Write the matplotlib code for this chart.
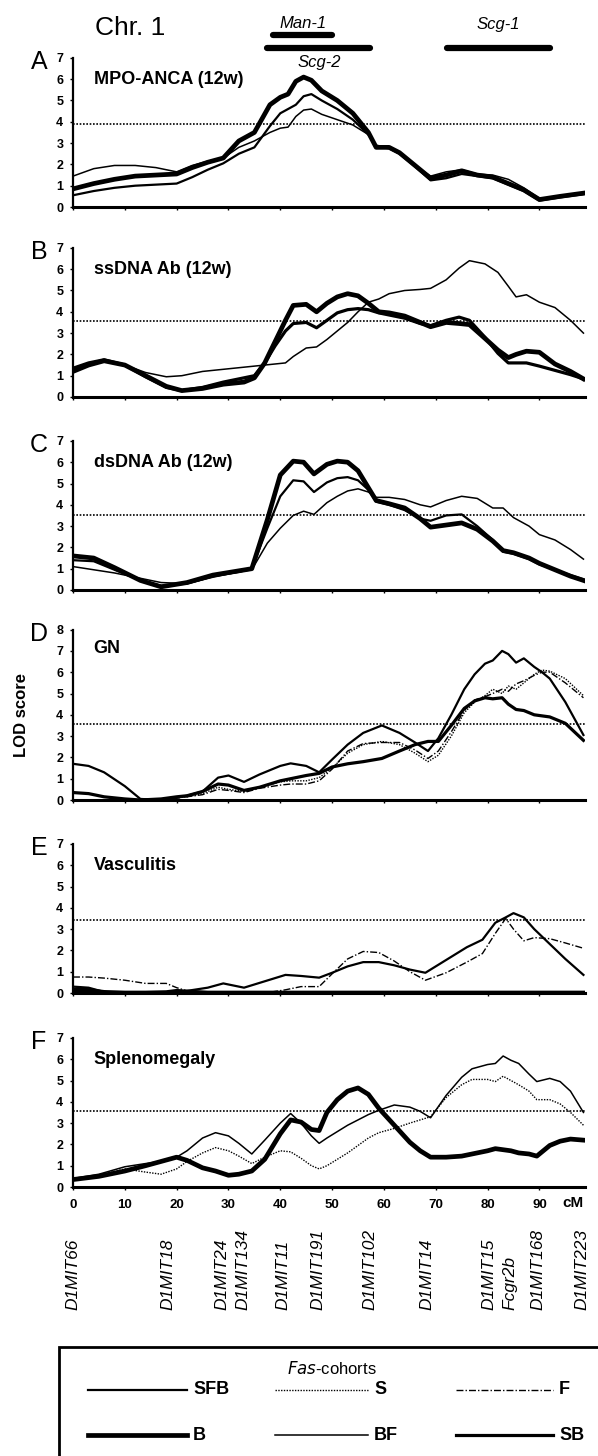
import matplotlib
matplotlib.use("Agg")
import matplotlib.pyplot as plt
from matplotlib.lines import Line2D
from matplotlib.patches import Rectangle
from matplotlib.transforms import blended_transform_factory

plt.rcParams["font.family"] = ["Liberation Sans", "DejaVu Sans"]

# ── Daten: LOD-Kurven (cM-Raster je Panel) ──────────────────────────────────
a_cm = [0, 4, 8, 12, 16, 20, 23, 26, 29, 32, 35, 38, 40, 41.5, 43, 44.5, 46, 48, 51, 54,
        57, 58.5, 61, 63, 66, 69, 72, 75, 78, 81, 84, 87, 90, 94, 98.5]
a_b = [0.85, 1.1, 1.3, 1.45, 1.5, 1.55, 1.85, 2.1, 2.3, 3.1, 3.5, 4.8, 5.15, 5.3, 5.9, 6.1, 5.95,
       5.45, 5.0, 4.4, 3.5, 2.8, 2.8, 2.55, 1.95, 1.35, 1.5, 1.7, 1.5, 1.4, 1.1, 0.8, 0.35, 0.5, 0.65]
a_sfb = [0.55, 0.75, 0.9, 1.0, 1.05, 1.1, 1.4, 1.75, 2.05, 2.5, 2.8, 3.8, 4.4, 4.6, 4.8, 5.2, 5.3,
         5.0, 4.6, 4.1, 3.4, 2.85, 2.75, 2.5, 1.9, 1.25, 1.35, 1.55, 1.45, 1.35, 1.05, 0.75, 0.3, 0.45, 0.6]
a_bf = [1.45, 1.8, 1.95, 1.95, 1.85, 1.65, 1.95, 2.15, 2.3, 2.8, 3.1, 3.5, 3.7, 3.75, 4.25, 4.55, 4.6,
        4.35, 4.1, 3.85, 3.4, 2.9, 2.8, 2.5, 1.95, 1.45, 1.65, 1.75, 1.55, 1.5, 1.3, 0.9, 0.4, 0.5, 0.6]

b_cm = [0, 3, 6, 10, 14, 18, 21, 25, 29, 33, 35, 37, 39, 41, 42.5, 45, 47, 49, 51, 53, 55, 57, 59,
        61, 64, 67, 69, 72, 74.5, 76.5, 79.5, 82, 84, 85.5, 87.5, 90, 93, 96, 98.5]
b_b = [1.2, 1.5, 1.7, 1.5, 1.0, 0.5, 0.3, 0.4, 0.6, 0.7, 0.9, 1.6, 2.6, 3.6, 4.3, 4.35, 4.0, 4.4,
       4.7, 4.85, 4.75, 4.4, 4.0, 3.95, 3.8, 3.5, 3.3, 3.5, 3.45, 3.4, 2.75, 2.2, 1.85, 2.0, 2.15,
       2.1, 1.55, 1.2, 0.85]
b_sb = [1.35, 1.6, 1.75, 1.5, 0.95, 0.45, 0.3, 0.45, 0.7, 0.9, 1.0, 1.6, 2.4, 3.1, 3.45, 3.5, 3.25,
        3.6, 3.95, 4.1, 4.15, 4.1, 3.95, 3.85, 3.7, 3.45, 3.35, 3.6, 3.75, 3.6, 2.8, 2.05, 1.6, 1.6,
        1.6, 1.45, 1.25, 1.05, 0.85]
b_bf = [1.35, 1.6, 1.7, 1.5, 1.15, 0.95, 1.0, 1.2, 1.3, 1.4, 1.45, 1.5, 1.55, 1.6, 1.9, 2.3, 2.35,
        2.7, 3.1, 3.5, 4.0, 4.45, 4.6, 4.85, 5.0, 5.05, 5.1, 5.5, 6.05, 6.4, 6.25, 5.85, 5.2, 4.7,
        4.8, 4.45, 4.2, 3.6, 3.0]

c_cm = [0, 4, 8, 13, 17, 22, 27, 32, 34.5, 37.5, 40, 42.5, 44.5, 46.5, 49, 51, 53, 55, 57, 58.5,
        61, 64, 67, 69, 72, 75, 78, 81, 83, 85, 88, 90, 93, 96, 98.5]
c_b = [1.6, 1.5, 1.05, 0.45, 0.15, 0.35, 0.7, 0.9, 1.0, 3.3, 5.4, 6.05, 6.0, 5.45, 5.9, 6.05, 6.0,
       5.6, 4.8, 4.2, 4.05, 3.85, 3.35, 2.95, 3.05, 3.15, 2.85, 2.3, 1.85, 1.75, 1.5, 1.25, 0.95,
       0.65, 0.45]
c_sfb = [1.4, 1.35, 0.95, 0.45, 0.2, 0.3, 0.65, 0.85, 1.0, 2.9, 4.4, 5.15, 5.1, 4.6, 5.05, 5.25,
         5.3, 5.15, 4.7, 4.15, 4.0, 3.75, 3.35, 3.25, 3.5, 3.55, 3.0, 2.35, 1.8, 1.7, 1.45, 1.2,
         0.95, 0.7, 0.5]
c_bf = [1.1, 0.95, 0.8, 0.55, 0.35, 0.3, 0.6, 0.85, 0.95, 2.2, 2.9, 3.5, 3.7, 3.55, 4.1, 4.4, 4.65,
        4.75, 4.6, 4.35, 4.35, 4.25, 4.0, 3.9, 4.2, 4.4, 4.3, 3.85, 3.85, 3.4, 3.0, 2.6, 2.35, 1.9,
        1.45]

d_cm = [0, 3, 6, 10, 13, 17, 20, 22, 25, 28, 30, 33, 36, 40, 42, 45, 47.5, 50, 53, 56, 59.6, 63,
        66, 68.5, 70.5, 73, 75.5, 77.5, 79.5, 81, 82.8, 84, 85.5, 87, 89, 90.5, 92, 95, 98.5]
d_sfb = [1.7, 1.6, 1.3, 0.65, 0.05, 0.0, 0.1, 0.2, 0.4, 1.05, 1.15, 0.85, 1.2, 1.6, 1.72, 1.6, 1.3,
         1.9, 2.6, 3.15, 3.5, 3.15, 2.7, 2.3, 2.9, 4.0, 5.2, 5.9, 6.4, 6.55, 7.0, 6.85, 6.45, 6.65,
         6.25, 6.0, 5.7, 4.6, 3.05]
d_sb = [0.35, 0.3, 0.15, 0.05, 0.0, 0.05, 0.15, 0.2, 0.4, 0.75, 0.7, 0.45, 0.6, 0.9, 1.0, 1.15,
        1.25, 1.55, 1.7, 1.8, 1.95, 2.3, 2.6, 2.75, 2.75, 3.5, 4.3, 4.65, 4.8, 4.75, 4.8, 4.5, 4.25,
        4.2, 4.0, 3.95, 3.9, 3.6, 2.8]
d_s = [0.0, 0.0, 0.0, 0.0, 0.0, 0.05, 0.1, 0.15, 0.3, 0.6, 0.5, 0.4, 0.6, 0.85, 0.9, 0.9, 1.05,
       1.5, 2.2, 2.6, 2.75, 2.6, 2.2, 1.8, 2.1, 3.0, 4.1, 4.6, 4.9, 5.2, 5.0, 5.35, 5.2, 5.5, 5.9,
       6.1, 6.05, 5.7, 4.9]
d_f = [0.0, 0.0, 0.0, 0.0, 0.0, 0.05, 0.1, 0.15, 0.25, 0.5, 0.45, 0.35, 0.55, 0.7, 0.75, 0.75, 0.9,
       1.45, 2.3, 2.65, 2.7, 2.7, 2.35, 1.95, 2.3, 3.2, 4.2, 4.7, 4.85, 5.0, 5.2, 5.1, 5.45, 5.6,
       5.85, 6.0, 6.0, 5.5, 4.8]

e_cm = [0, 3, 6, 10, 14, 18, 20, 22, 26, 29, 33, 37, 41, 44, 47.5, 50, 53, 56, 59, 62, 65, 68, 72,
        76, 79, 81.5, 83.5, 85, 87, 89, 92, 95, 98.5]
e_sfb = [0.3, 0.25, 0.05, 0.0, 0.0, 0.0, 0.02, 0.1, 0.25, 0.45, 0.25, 0.55, 0.85, 0.8, 0.72, 0.95,
         1.25, 1.45, 1.45, 1.3, 1.1, 0.95, 1.55, 2.15, 2.5, 3.3, 3.55, 3.75, 3.55, 3.0, 2.3, 1.6, 0.85]
e_f = [0.75, 0.75, 0.7, 0.6, 0.45, 0.45, 0.25, 0.1, 0.0, 0.0, 0.0, 0.0, 0.15, 0.3, 0.3, 0.9, 1.6,
       1.95, 1.9, 1.5, 1.0, 0.6, 0.95, 1.45, 1.85, 2.8, 3.5, 3.0, 2.45, 2.6, 2.55, 2.35, 2.1]
e_b = [0.15, 0.12, 0.03, 0.0, 0.0, 0.02, 0.08, 0.05, 0.0, 0.0, 0.0, 0.0, 0.0, 0.0, 0.0, 0.0, 0.0,
       0.0, 0.0, 0.0, 0.0, 0.0, 0.0, 0.0, 0.0, 0.0, 0.0, 0.0, 0.0, 0.0, 0.0, 0.0, 0.0]

f_cm = [0, 5, 10, 14, 17, 20, 22, 25, 27.5, 30, 32, 34.5, 37, 40, 42, 44, 46, 47.5, 49, 51, 53, 55,
        57, 59, 62, 65, 67, 69, 72, 75, 77, 80, 81.5, 83, 84.5, 86, 88, 89.5, 92, 94, 96, 98.5]
f_sfb = [0.4, 0.6, 0.95, 1.1, 1.2, 1.4, 1.7, 2.3, 2.55, 2.4, 2.05, 1.55, 2.2, 3.0, 3.45, 3.0, 2.4,
         2.05, 2.3, 2.6, 2.9, 3.15, 3.4, 3.6, 3.85, 3.75, 3.55, 3.25, 4.3, 5.15, 5.55, 5.75, 5.8,
         6.15, 5.95, 5.8, 5.3, 4.95, 5.1, 4.95, 4.5, 3.5]
f_b = [0.35, 0.5, 0.75, 1.0, 1.2, 1.4, 1.25, 0.9, 0.75, 0.55, 0.6, 0.75, 1.3, 2.5, 3.15, 3.05, 2.7,
       2.65, 3.5, 4.1, 4.5, 4.65, 4.35, 3.7, 2.9, 2.1, 1.7, 1.4, 1.4, 1.45, 1.55, 1.7, 1.8, 1.75,
       1.7, 1.6, 1.55, 1.45, 1.95, 2.15, 2.25, 2.2]
f_s = [0.35, 0.55, 0.85, 0.7, 0.6, 0.85, 1.2, 1.6, 1.85, 1.7, 1.45, 1.1, 1.4, 1.7, 1.65, 1.35, 1.0,
       0.85, 1.0, 1.3, 1.6, 1.95, 2.3, 2.55, 2.75, 3.0, 3.15, 3.3, 4.2, 4.8, 5.05, 5.05, 4.95, 5.2,
       5.0, 4.8, 4.5, 4.1, 4.1, 3.9, 3.5, 2.9]

# Panels: Buchstabe, Titel, y-Max, Schwelle
panel_letters = ["A", "B", "C", "D", "E", "F"]
panel_titles = ["MPO-ANCA (12w)", "ssDNA Ab (12w)", "dsDNA Ab (12w)", "GN", "Vasculitis",
                "Splenomegaly"]
panel_ymax = [7, 7, 7, 8, 7, 7]
thresholds = [3.9, 3.55, 3.5, 3.55, 3.45, 3.55]

# Marker (cM)
marker_names = ["D1MIT66", "D1MIT18", "D1MIT24", "D1MIT134", "D1MIT11", "D1MIT191", "D1MIT102",
                "D1MIT14", "D1MIT15", "Fcgr2b", "D1MIT168", "D1MIT223"]
marker_cm = [0, 18.3, 28.7, 32.8, 40.5, 47.3, 57.4, 68.4, 80.2, 84.3, 89.8, 98.3]

# Gene-Regionen (cM)
gene_names = ["Man-1", "Scg-2", "Scg-1"]
gene_start = [38.6, 37.5, 72.1]
gene_end = [50.0, 57.4, 92.0]

# ── Linienstile je Kohorte ───────────────────────────────────────────────────
styles = {
    "SFB": dict(lw=1.6, ls="-"),
    "S":   dict(lw=1.0, ls=(0, (1, 1))),
    "F":   dict(lw=1.0, ls=(0, (5, 1.5, 1, 1.5))),
    "B":   dict(lw=3.4, ls="-"),
    "BF":  dict(lw=1.1, ls="-"),
    "SB":  dict(lw=2.3, ls="-"),
}

panel_curves = [
    [(a_cm, a_bf, "BF"), (a_cm, a_sfb, "SFB"), (a_cm, a_b, "B")],
    [(b_cm, b_bf, "BF"), (b_cm, b_sb, "SB"), (b_cm, b_b, "B")],
    [(c_cm, c_bf, "BF"), (c_cm, c_sfb, "SFB"), (c_cm, c_b, "B")],
    [(d_cm, d_s, "S"), (d_cm, d_f, "F"), (d_cm, d_sb, "SB"), (d_cm, d_sfb, "SFB")],
    [(e_cm, e_f, "F"), (e_cm, e_sfb, "SFB"), (e_cm, e_b, "B")],
    [(f_cm, f_s, "S"), (f_cm, f_sfb, "BF"), (f_cm, f_b, "B")],
]

# ── Layout in Pixeln ─────────────────────────────────────────────────────────
W, H = 598, 1456
ax_left, ax_right = 73, 585
y_zero = [207, 397, 590, 800, 993, 1187]
px_unit = 21.3


def fx(px):
    return px / W


def fy(py):
    return 1 - py / H


fig = plt.figure(figsize=(W / 100, H / 100), dpi=100)
axes = []
for i in range(6):
    top = y_zero[i] - panel_ymax[i] * px_unit
    ax = fig.add_axes([fx(ax_left), fy(y_zero[i]), (ax_right - ax_left) / W,
                       (y_zero[i] - top) / H])
    axes.append(ax)
    for x, y, key in panel_curves[i]:
        ax.plot(x, y, color="black", solid_joinstyle="round", **styles[key])
    ax.axhline(thresholds[i], color="black", lw=1.2, ls=(0, (1, 1)))
    ax.set_xlim(0, 98.8)
    ax.set_ylim(0, panel_ymax[i])
    ax.set_yticks(range(panel_ymax[i] + 1))
    ax.set_xticks(range(0, 100, 10))
    for s in ["top", "right"]:
        ax.spines[s].set_visible(False)
    ax.spines["left"].set_linewidth(1.6)
    ax.spines["bottom"].set_linewidth(2.2)
    ax.tick_params(axis="y", length=2, width=1, pad=5, labelsize=9)
    ax.tick_params(axis="x", length=2, width=1, pad=7, labelsize=9.5)
    for lab in ax.get_yticklabels():
        lab.set_fontweight("bold")
    if i < 5:
        ax.set_xticklabels([])
    else:
        ax.set_xticklabels([str(v) for v in range(0, 100, 10)], fontweight="bold")
    ax.text(4, panel_ymax[i] - 1.0 + (0.1 if i == 3 else 0), panel_titles[i], fontsize=13,
            fontweight="bold", va="center", ha="left")
    fig.text(fx(39), fy(top + 4), panel_letters[i], fontsize=18, ha="center", va="center")

# LOD-Achsenbeschriftung links neben Panel D
fig.text(fx(22), fy(715), "LOD score", rotation=90, fontsize=12, fontweight="bold",
         ha="center", va="center")
axes[5].text(96.5, -0.75, "cM", fontsize=11, fontweight="bold", ha="center", va="center")

# ── Kopf: Chr. 1 und Gen-Regionen ────────────────────────────────────────────
fig.text(fx(95), fy(28), "Chr. 1", fontsize=19, va="center", ha="left")
trans = blended_transform_factory(axes[0].transData, fig.transFigure)
bar_y = [fy(35), fy(48), fy(48)]
label_y = [fy(24), fy(62), fy(24)]
for name, x0, x1, by, ly in zip(gene_names, gene_start, gene_end, bar_y, label_y):
    fig.add_artist(Line2D([x0, x1], [by, by], color="black", lw=4.5, transform=trans,
                          solid_capstyle="round"))
    fig.text((x0 + x1) / 2, ly, name, transform=trans, fontsize=12, style="italic",
             ha="center", va="center")

# ── Marker-Beschriftung ──────────────────────────────────────────────────────
for name, cm in zip(marker_names, marker_cm):
    fig.text(cm, fy(1310), name, transform=trans, rotation=90, fontsize=12.5,
             style="italic", ha="center", va="bottom")

# ── Legende ──────────────────────────────────────────────────────────────────
fig.add_artist(Rectangle((fx(59), fy(1475)), fx(560), 128 / H, fill=False, lw=2,
                         edgecolor="black", transform=fig.transFigure))
fig.text(fx(332), fy(1368), "$\\it{Fas}$-cohorts", fontsize=12, ha="center", va="center")
leg_keys = [["SFB", "S", "F"], ["B", "BF", "SB"]]
leg_rows = [1390, 1435]
leg_cols = [(88, 187), (275, 368), (456, 553)]
for r, row in enumerate(leg_keys):
    for c, key in enumerate(row):
        x0, x1 = leg_cols[c]
        fig.add_artist(Line2D([fx(x0), fx(x1)], [fy(leg_rows[r])] * 2, color="black",
                              transform=fig.transFigure, **styles[key]))
        fig.text(fx(x1 + 6), fy(leg_rows[r]), key, fontsize=13, fontweight="bold",
                 ha="left", va="center")

fig.savefig("out.png", dpi=100)
